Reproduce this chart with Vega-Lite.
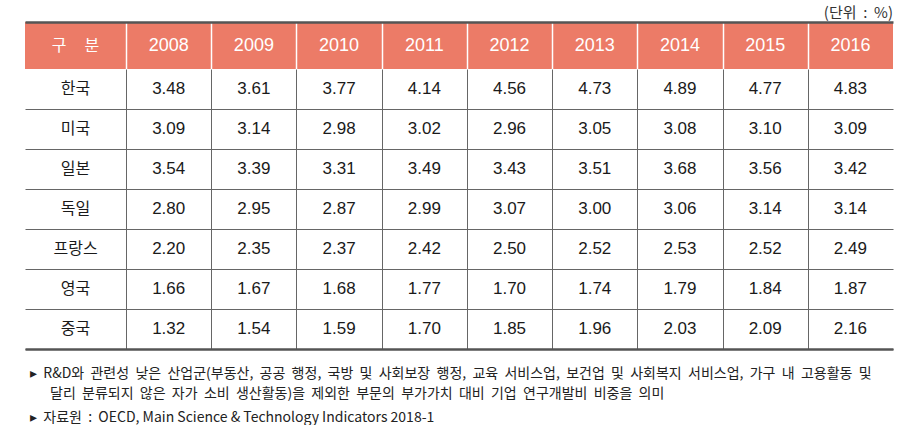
{
  "$schema": "https://vega.github.io/schema/vega-lite/v6.json",
  "background": "white",
  "padding": {"left": 25, "top": 6, "right": 7, "bottom": 0},
  "spacing": 0,
  "config": {"view": {"stroke": null}, "font": "Noto Sans CJK KR"},
  "datasets": {
    "rd": [
      {"country": "한국", "year": 2008, "value": 3.48}, {"country": "한국", "year": 2009, "value": 3.61}, {"country": "한국", "year": 2010, "value": 3.77}, {"country": "한국", "year": 2011, "value": 4.14}, {"country": "한국", "year": 2012, "value": 4.56}, {"country": "한국", "year": 2013, "value": 4.73}, {"country": "한국", "year": 2014, "value": 4.89}, {"country": "한국", "year": 2015, "value": 4.77}, {"country": "한국", "year": 2016, "value": 4.83},
      {"country": "미국", "year": 2008, "value": 3.09}, {"country": "미국", "year": 2009, "value": 3.14}, {"country": "미국", "year": 2010, "value": 2.98}, {"country": "미국", "year": 2011, "value": 3.02}, {"country": "미국", "year": 2012, "value": 2.96}, {"country": "미국", "year": 2013, "value": 3.05}, {"country": "미국", "year": 2014, "value": 3.08}, {"country": "미국", "year": 2015, "value": 3.10}, {"country": "미국", "year": 2016, "value": 3.09},
      {"country": "일본", "year": 2008, "value": 3.54}, {"country": "일본", "year": 2009, "value": 3.39}, {"country": "일본", "year": 2010, "value": 3.31}, {"country": "일본", "year": 2011, "value": 3.49}, {"country": "일본", "year": 2012, "value": 3.43}, {"country": "일본", "year": 2013, "value": 3.51}, {"country": "일본", "year": 2014, "value": 3.68}, {"country": "일본", "year": 2015, "value": 3.56}, {"country": "일본", "year": 2016, "value": 3.42},
      {"country": "독일", "year": 2008, "value": 2.80}, {"country": "독일", "year": 2009, "value": 2.95}, {"country": "독일", "year": 2010, "value": 2.87}, {"country": "독일", "year": 2011, "value": 2.99}, {"country": "독일", "year": 2012, "value": 3.07}, {"country": "독일", "year": 2013, "value": 3.00}, {"country": "독일", "year": 2014, "value": 3.06}, {"country": "독일", "year": 2015, "value": 3.14}, {"country": "독일", "year": 2016, "value": 3.14},
      {"country": "프랑스", "year": 2008, "value": 2.20}, {"country": "프랑스", "year": 2009, "value": 2.35}, {"country": "프랑스", "year": 2010, "value": 2.37}, {"country": "프랑스", "year": 2011, "value": 2.42}, {"country": "프랑스", "year": 2012, "value": 2.50}, {"country": "프랑스", "year": 2013, "value": 2.52}, {"country": "프랑스", "year": 2014, "value": 2.53}, {"country": "프랑스", "year": 2015, "value": 2.52}, {"country": "프랑스", "year": 2016, "value": 2.49},
      {"country": "영국", "year": 2008, "value": 1.66}, {"country": "영국", "year": 2009, "value": 1.67}, {"country": "영국", "year": 2010, "value": 1.68}, {"country": "영국", "year": 2011, "value": 1.77}, {"country": "영국", "year": 2012, "value": 1.70}, {"country": "영국", "year": 2013, "value": 1.74}, {"country": "영국", "year": 2014, "value": 1.79}, {"country": "영국", "year": 2015, "value": 1.84}, {"country": "영국", "year": 2016, "value": 1.87},
      {"country": "중국", "year": 2008, "value": 1.32}, {"country": "중국", "year": 2009, "value": 1.54}, {"country": "중국", "year": 2010, "value": 1.59}, {"country": "중국", "year": 2011, "value": 1.70}, {"country": "중국", "year": 2012, "value": 1.85}, {"country": "중국", "year": 2013, "value": 1.96}, {"country": "중국", "year": 2014, "value": 2.03}, {"country": "중국", "year": 2015, "value": 2.09}, {"country": "중국", "year": 2016, "value": 2.16}
    ]
  },
  "vconcat": [
    {
      "width": 868,
      "height": 47,
      "title": {"text": "(단위 \u00a0: \u00a0%)", "anchor": "end", "orient": "top", "fontSize": 15, "fontWeight": "normal", "font": "Noto Sans CJK KR", "color": "#333", "offset": 1},
      "view": {"fill": "#EC7B67", "stroke": null},
      "data": {"name": "rd"},
      "transform": [{"filter": "datum.country === '한국'"}],
      "encoding": {
        "x": {
          "field": "year", "type": "quantitative",
          "scale": {"domain": [2006.314, 2016.5], "nice": false, "zero": false},
          "axis": {"orient": "top", "labels": false, "ticks": false, "title": null, "domainColor": "#555555", "domainWidth": 2.5, "grid": true, "gridColor": "#ffffff", "gridWidth": 1.5, "gridOpacity": 1, "values": [2007.5, 2008.5, 2009.5, 2010.5, 2011.5, 2012.5, 2013.5, 2014.5, 2015.5]}
        }
      },
      "layer": [
        {
          "mark": {"type": "text", "color": "#ffffff", "fontSize": 18, "font": "Liberation Sans", "baseline": "middle"},
          "encoding": {"text": {"field": "year", "type": "quantitative", "format": "d"}}
        },
        {
          "transform": [{"filter": "datum.year === 2008"}],
          "mark": {"type": "text", "color": "#ffffff", "fontSize": 16, "font": "Noto Sans CJK KR", "baseline": "middle", "text": "구\u00a0\u00a0\u00a0\u00a0\u00a0분"},
          "encoding": {"x": {"datum": 2006.907}}
        }
      ]
    },
    {
      "width": 868,
      "height": 280,
      "data": {"name": "rd"},
      "title": {
        "text": ["▸\u00a0 R&D와 \u00a0관련성 \u00a0낮은 \u00a0산업군(부동산, \u00a0공공 \u00a0행정, \u00a0국방 \u00a0및 \u00a0사회보장 \u00a0행정, \u00a0교육 \u00a0서비스업, \u00a0보건업 \u00a0및 \u00a0사회복지 \u00a0서비스업, \u00a0가구 \u00a0내 \u00a0고용활동 \u00a0및", "\u2800\u2800달리 \u00a0분류되지 \u00a0않은 \u00a0자가 \u00a0소비 \u00a0생산활동)을 \u00a0제외한 \u00a0부문의 \u00a0부가가치 \u00a0대비 \u00a0기업 \u00a0연구개발비 \u00a0비중을 \u00a0의미"],
        "subtitle": "▸\u00a0 자료원 \u00a0: \u00a0OECD, Main Science & Technology Indicators 2018-1",
        "orient": "bottom", "anchor": "start", "fontSize": 14, "fontWeight": "normal", "font": "Noto Sans CJK KR", "color": "#222",
        "lineHeight": 20, "subtitleFontSize": 14, "subtitleFont": "Noto Sans CJK KR", "subtitleColor": "#222", "subtitlePadding": 10, "offset": 18, "dx": 5
      },
      "encoding": {
        "x": {
          "field": "year", "type": "quantitative",
          "scale": {"domain": [2006.314, 2016.5], "nice": false, "zero": false},
          "axis": {"orient": "bottom", "labels": false, "ticks": false, "title": null, "domainColor": "#555555", "domainWidth": 2.5, "grid": true, "gridColor": "#666666", "gridWidth": 1, "gridOpacity": 1, "values": [2007.5, 2008.5, 2009.5, 2010.5, 2011.5, 2012.5, 2013.5, 2014.5, 2015.5]}
        },
        "y": {
          "field": "country", "type": "nominal", "sort": null,
          "scale": {"paddingInner": 0, "paddingOuter": 0},
          "axis": {"labels": false, "ticks": false, "domain": false, "title": null, "grid": true, "gridColor": "#666666", "gridWidth": 1, "gridOpacity": 1, "tickBand": "extent", "values": ["미국", "일본", "독일", "프랑스", "영국", "중국"]}
        }
      },
      "layer": [
        {
          "mark": {"type": "text", "fontSize": 17, "font": "Liberation Sans", "color": "#1a1a1a", "baseline": "middle"},
          "encoding": {"text": {"field": "value", "type": "quantitative", "format": ".2f"}}
        },
        {
          "transform": [{"filter": "datum.year === 2008"}],
          "mark": {"type": "text", "fontSize": 16, "font": "Noto Sans CJK KR", "color": "#1a1a1a", "baseline": "middle"},
          "encoding": {"x": {"datum": 2006.907}, "text": {"field": "country", "type": "nominal"}}
        }
      ]
    }
  ]
}
